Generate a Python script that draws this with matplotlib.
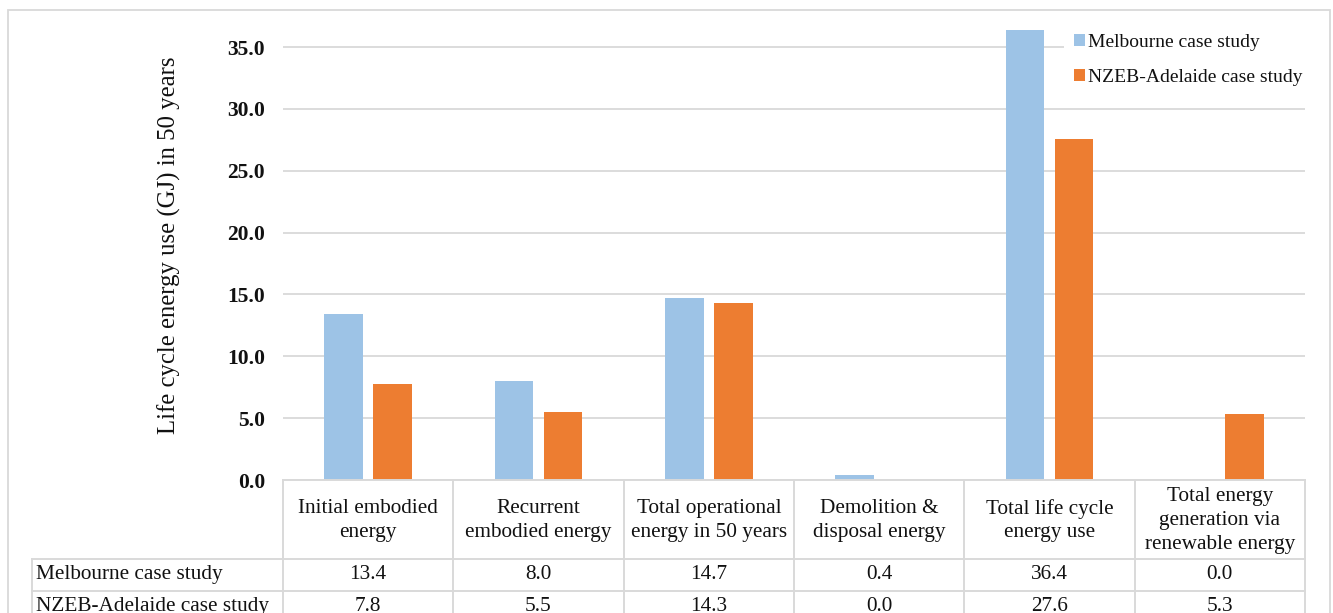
import matplotlib
matplotlib.use("Agg")
import matplotlib.pyplot as plt
from matplotlib.lines import Line2D
from matplotlib.patches import Rectangle
import matplotlib.transforms as mtransforms

plt.rcParams['font.family'] = ['Liberation Serif', 'DejaVu Serif']

categories = ["Initial embodied\nenergy", "Recurrent\nembodied energy",
              "Total operational\nenergy in 50 years", "Demolition &\ndisposal energy",
              "Total life cycle\nenergy use", "Total energy\ngeneration via\nrenewable energy"]
series_names = ["Melbourne case study", "NZEB-Adelaide case study"]
melbourne = [13.4, 8.0, 14.7, 0.4, 36.4, 0.0]
adelaide = [7.8, 5.5, 14.3, 0.0, 27.6, 5.3]
yticks = [0, 5, 10, 15, 20, 25, 30, 35]
colors = ["#9DC3E6", "#ED7D31"]

W, H = 1333, 613
fig = plt.figure(figsize=(W / 100, H / 100), dpi=100)

def fx(px):
    return px / W

def fy(py):
    return 1 - py / H

ax = fig.add_axes([fx(283), fy(480), fx(1305) - fx(283), fy(28.5) - fy(480)])
ax.set_xlim(-0.5, len(categories) - 0.5)
ax.set_ylim(0, 36.5)

bw = 0.227
off = 0.143
xs = list(range(len(categories)))
b1 = ax.bar([x - off for x in xs], melbourne, width=bw, color=colors[0], zorder=3, linewidth=0)
b2 = ax.bar([x + off for x in xs], adelaide, width=bw, color=colors[1], zorder=3, linewidth=0)

for s in ax.spines.values():
    s.set_visible(False)
ax.set_yticks(yticks)
ax.set_yticklabels([f"{v:.1f}" for v in yticks], fontsize=15.5, fontweight='bold', color='#111111')
ax.tick_params(axis='y', length=0, pad=13)
ax.set_xticks([])
ax.grid(axis='y', color='#D9D9D9', linewidth=1.3, zorder=0)
ax.set_axisbelow(True)

leg = ax.legend([b1, b2], series_names, loc='upper left',
                bbox_to_anchor=(fx(1064), fy(24)), bbox_transform=fig.transFigure,
                fontsize=14, frameon=True, fancybox=False, framealpha=1,
                facecolor='white', edgecolor='none', handlelength=0.57, handleheight=0.57,
                handletextpad=0.15, borderpad=0.5, labelspacing=0.95, borderaxespad=0)
for t in leg.get_texts():
    t.set_color('#111111')

# y label
fig.text(fx(169), fy(245), "Life cycle energy use (GJ) in 50 years", rotation=90,
         ha='center', va='center', fontsize=17.8, color='#111111')

# data table
lc = '#D9D9D9'
lw = 1.4
blend = mtransforms.blended_transform_factory(ax.transData, fig.transFigure)
rows_y = [480, 559, 591, 623]
x_left_px = 32
n = len(categories)
bounds = [i - 0.5 for i in range(n + 1)]

for ry in rows_y:
    fig.add_artist(Line2D([bounds[0], bounds[-1]], [fy(ry), fy(ry)], transform=blend,
                          color=lc, lw=lw, clip_on=False))
for ry in rows_y[1:]:
    fig.add_artist(Line2D([fx(x_left_px), fx(283)], [fy(ry), fy(ry)], transform=fig.transFigure,
                          color=lc, lw=lw))
for b in bounds:
    fig.add_artist(Line2D([b, b], [fy(rows_y[0]), fy(rows_y[-1])], transform=blend,
                          color=lc, lw=lw, clip_on=False))
fig.add_artist(Line2D([fx(x_left_px), fx(x_left_px)], [fy(rows_y[1]), fy(rows_y[-1])],
                      transform=fig.transFigure, color=lc, lw=lw))

txt_kw = dict(fontsize=15.3, color='#111111', ha='center', va='center')
for i, c in enumerate(categories):
    fig.text(i, fy((rows_y[0] + rows_y[1]) / 2 + 1), c, transform=blend, linespacing=1.35, **txt_kw)
for r, vals in enumerate([melbourne, adelaide]):
    cy = fy((rows_y[r + 1] + rows_y[r + 2]) / 2 - 0.5)
    fig.text(fx(36), cy, series_names[r], fontsize=15.3, color='#111111', ha='left', va='center')
    for i, v in enumerate(vals):
        fig.text(i, cy, f"{v:.1f}", transform=blend, **txt_kw)

fig.add_artist(Rectangle((fx(8), fy(640)), fx(1330) - fx(8), fy(10) - fy(640),
                         transform=fig.transFigure, fill=False, edgecolor=lc, lw=1.3))

fig.savefig("out.png", dpi=100)
